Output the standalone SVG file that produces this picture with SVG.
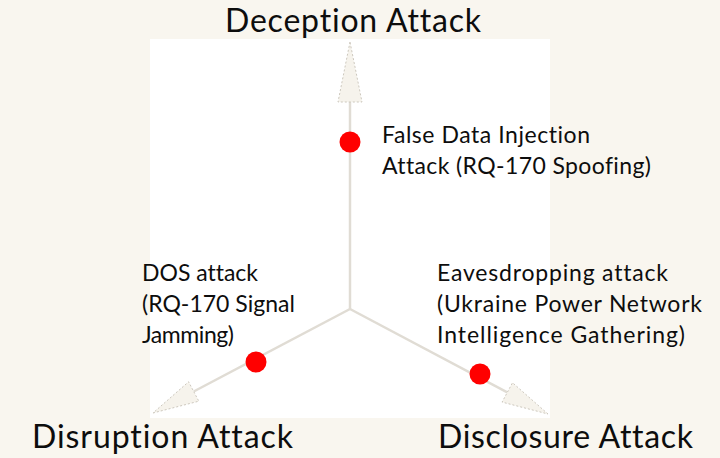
<svg xmlns="http://www.w3.org/2000/svg" width="720" height="458" viewBox="0 0 720 458">
  <style>
    text { font-variant-ligatures: none; font-feature-settings: "liga" 0, "dlig" 0; }
    .title { font-family: Lato, "Liberation Sans", sans-serif; font-size: 32px; fill: #0d0d0d; }
    .label { font-family: Lato, "Liberation Sans", sans-serif; font-size: 23px; fill: #0d0d0d; }
    .shaft { stroke: #e0dcd4; stroke-width: 2.5; fill: none; }
    .head { fill: #f6f3ec; stroke: #cdc8be; stroke-width: 1; stroke-dasharray: 2 2; }
    .dot { fill: #ff0000; }
  </style>

  <!-- canvas -->
  <rect x="0" y="0" width="720" height="458" fill="#f9f6ef"/>
  <rect x="150" y="39" width="400" height="379" fill="#ffffff"/>

  <!-- three axes from the common origin -->
  <g id="connectors">
    <line class="shaft" x1="350" y1="309" x2="350" y2="100"/>
    <polygon class="head" points="350,42 338,102 362,102"/>
    <line class="shaft" x1="350" y1="309" x2="193.7" y2="391.5"/>
    <polygon class="head" points="153,413 198.8,401.2 188.6,381.8"/>
    <line class="shaft" x1="350" y1="309" x2="507.3" y2="392.4"/>
    <polygon class="head" points="548,414 512.5,382.7 502.1,402.1"/>
  </g>

  <!-- axis titles -->
  <g id="deception">
    <text class="title" x="225" y="32" textLength="256" lengthAdjust="spacing">Deception Attack</text>
  </g>
  <g id="disruption">
    <text class="title" x="32" y="448" textLength="261" lengthAdjust="spacing">Disruption Attack</text>
  </g>
  <g id="disclosure">
    <text class="title" x="438" y="448" textLength="255" lengthAdjust="spacing">Disclosure Attack</text>
  </g>

  <!-- example attacks on each axis -->
  <g id="false-data-injection">
    <circle class="dot" cx="350" cy="142" r="10.5"/>
    <text class="label" x="382" y="143" textLength="208" lengthAdjust="spacing">False Data Injection</text>
    <text class="label" x="382" y="174" textLength="269" lengthAdjust="spacing">Attack (RQ-170 Spoofing)</text>
  </g>
  <g id="dos">
    <circle class="dot" cx="256" cy="362" r="10.5"/>
    <text class="label" x="142" y="281" textLength="116" lengthAdjust="spacing">DOS attack</text>
    <text class="label" x="142" y="312" textLength="153" lengthAdjust="spacing">(RQ-170 Signal</text>
    <text class="label" x="142" y="343" textLength="92" lengthAdjust="spacing">Jamming)</text>
  </g>
  <g id="eavesdropping">
    <circle class="dot" cx="480" cy="374" r="10.5"/>
    <text class="label" x="437" y="281" textLength="231" lengthAdjust="spacing">Eavesdropping attack</text>
    <text class="label" x="437" y="312" textLength="265" lengthAdjust="spacing">(Ukraine Power Network</text>
    <text class="label" x="437" y="343" textLength="248" lengthAdjust="spacing">Intelligence Gathering)</text>
  </g>
</svg>
